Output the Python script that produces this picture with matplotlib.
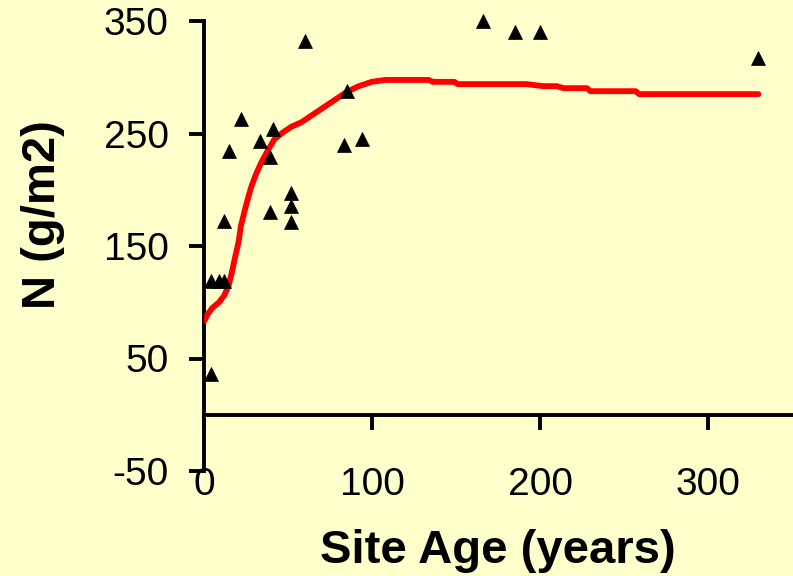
import matplotlib
matplotlib.use("Agg")
import matplotlib.pyplot as plt

# Measured site data: age (years) and soil nitrogen (g/m2)
site_age = [60, 85, 22, 41, 33.5, 15, 39, 83.5, 94, 51.6, 51.6, 39, 51.6, 12,
            4, 9, 12, 4, 166, 185, 200, 330]
nitrogen = [332, 288, 263, 254, 243, 234.5, 229, 240, 245, 197, 185.5, 180.5, 171, 172,
            119, 119, 119, 36, 350, 340, 340, 317]

# Fitted trend curve
fit_age = [0.5, 2, 5, 9, 12, 14.5, 16.5, 18.5, 20.5, 22, 25, 28, 31, 34, 38, 42, 47,
           52, 58, 65, 72, 78, 85, 92, 100, 108, 134, 136, 149, 151, 192, 202, 210,
           214, 228, 230, 257, 259, 330]
fit_n = [84, 89, 95, 100, 106, 114, 126, 140, 153, 168, 186, 202, 214, 224, 235, 245, 251,
         256, 260, 267, 274, 280, 287, 292, 296, 297.6, 297.6, 295.9, 295.9, 293.9, 293.9,
         292.1, 292.1, 290.3, 290.3, 287.6, 287.6, 285, 285]

x_ticks = [0, 100, 200, 300]
y_ticks = [-50, 50, 150, 250, 350]

BG = "#FFFFCC"
FONT = "Liberation Sans"

fig = plt.figure(figsize=(7.93, 5.76), dpi=100, facecolor=BG)
ax = fig.add_axes([204 / 793, 1 - 471 / 576, (792 - 204) / 793, (471 - 21) / 576])
ax.set_facecolor(BG)

ax.plot(fit_age, fit_n, color="#FF0000", lw=4.2, solid_capstyle="round",
        solid_joinstyle="round", zorder=3)
ax.plot(site_age, nitrogen, linestyle="none", marker="^", ms=9.5, color="black",
        markeredgewidth=0.5, clip_on=False, zorder=4)

ax.set_xlim(0, 350)
ax.set_ylim(-50, 350)

for side in ("top", "right", "bottom"):
    ax.spines[side].set_visible(False)
ax.spines["left"].set_linewidth(2.8)

ax.set_yticks(y_ticks)
ax.set_yticklabels([str(v) for v in y_ticks])
ax.tick_params(axis="y", direction="out", length=10.5, width=2.8, pad=15,
               labelsize=28)
ax.set_xticks(x_ticks)
ax.set_xticklabels([str(v) for v in x_ticks])
ax.tick_params(axis="x", length=0, pad=-3, labelsize=28)
for lab in ax.get_xticklabels() + ax.get_yticklabels():
    lab.set_fontfamily(FONT)

# Horizontal axis line drawn through y = 0
zero_pos = (0 - (-50)) / (350 - (-50))
sec = ax.secondary_xaxis(zero_pos)
sec.set_xticks(x_ticks)
sec.set_xticklabels([])
sec.spines["bottom"].set_linewidth(2.8)
sec.tick_params(axis="x", direction="out", length=10.5, width=2.8)

fig.text(497.5 / 793, 1 - 563 / 576, "Site Age (years)", ha="center", va="baseline",
         fontsize=34, fontweight="bold", family=FONT)
fig.text(55 / 793, 1 - 215 / 576, "N (g/m2)", ha="center", va="baseline",
         rotation=90, rotation_mode="anchor", fontsize=34, fontweight="bold",
         family=FONT)

fig.savefig("out.png", dpi=100, facecolor=BG)
